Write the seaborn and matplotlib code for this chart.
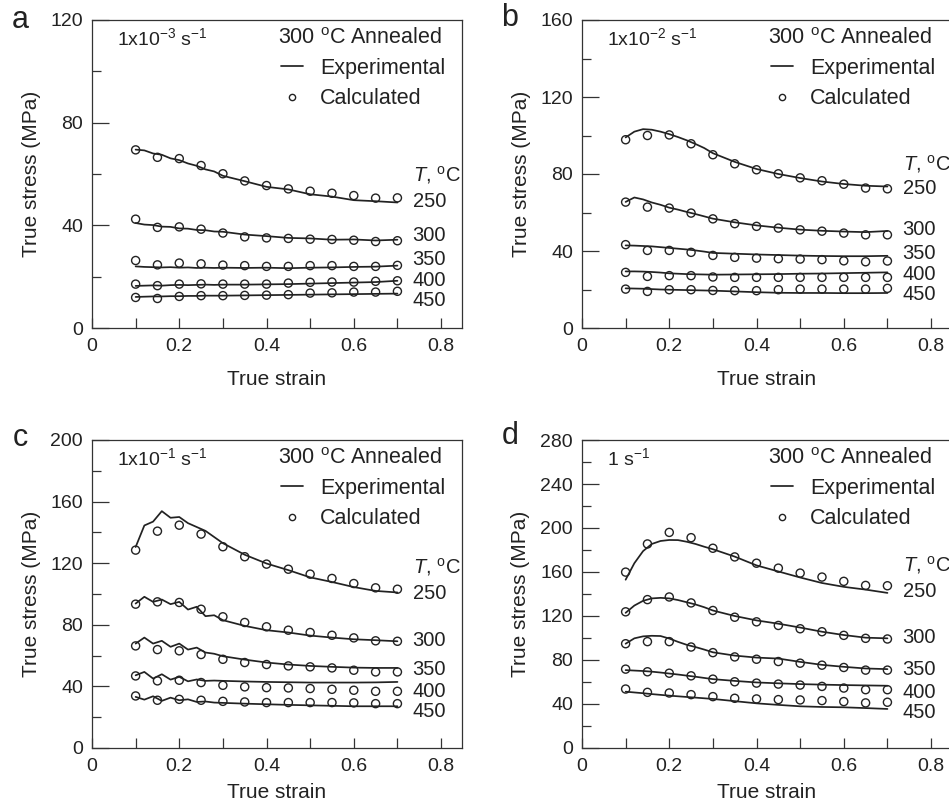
import numpy as np
import pandas as pd
import matplotlib
matplotlib.use("Agg")
import matplotlib.pyplot as plt
from matplotlib.lines import Line2D
from matplotlib.ticker import MultipleLocator
import seaborn as sns

# ---------------- data ----------------
temps = [250, 300, 350, 400, 450]
strain_calc = [0.10, 0.15, 0.20, 0.25, 0.30, 0.35, 0.40, 0.45, 0.50, 0.55, 0.60, 0.65, 0.70]
strain_exp = [0.10, 0.12, 0.14, 0.16, 0.18, 0.20, 0.22, 0.24, 0.26, 0.28, 0.30,
              0.35, 0.40, 0.45, 0.50, 0.55, 0.60, 0.65, 0.70]

# panel a : 1x10^-3 s^-1
a_exp_250 = [69.5, 69.2, 68.0, 67.5, 66.1, 65.4, 64.1, 63.2, 61.8, 61.0, 59.3, 57.2, 55.0, 54.0, 52.1, 51.2, 49.8, 49.4, 48.9]
a_exp_300 = [40.9, 40.3, 40.1, 39.5, 39.4, 38.8, 38.7, 38.2, 38.1, 37.6, 37.5, 36.4, 35.8, 35.1, 34.9, 34.4, 34.5, 34.1, 34.4]
a_exp_350 = [24.0, 23.8, 23.7, 23.6, 23.7, 23.5, 23.6, 23.4, 23.5, 23.4, 23.5, 23.4, 23.5, 23.3, 23.5, 23.6, 23.8, 23.9, 24.3]
a_exp_400 = [16.4, 16.5, 16.6, 16.5, 16.7, 16.8, 16.7, 16.8, 16.9, 16.8, 16.9, 16.9, 17.0, 17.1, 17.3, 17.5, 17.7, 17.9, 18.4]
a_exp_450 = [12.1, 12.2, 12.3, 12.3, 12.4, 12.4, 12.5, 12.5, 12.6, 12.6, 12.6, 12.7, 12.8, 12.9, 13.0, 13.1, 13.2, 13.3, 13.4]
a_calc_250 = [69.4, 66.5, 66.0, 63.3, 60.1, 57.3, 55.5, 54.2, 53.3, 52.5, 51.6, 50.6, 50.7]
a_calc_300 = [42.4, 39.2, 39.4, 38.5, 37.0, 35.5, 35.1, 34.9, 34.6, 34.5, 34.2, 33.7, 34.0]
a_calc_350 = [26.3, 24.6, 25.3, 25.0, 24.5, 24.3, 24.0, 24.0, 24.3, 24.3, 24.0, 24.0, 24.4]
a_calc_400 = [17.1, 16.5, 17.1, 17.2, 17.1, 17.1, 17.1, 17.5, 17.8, 17.9, 17.9, 18.2, 18.4]
a_calc_450 = [11.9, 11.5, 12.3, 12.6, 12.6, 12.7, 12.8, 13.0, 13.6, 13.7, 14.0, 14.0, 14.3]

# panel b : 1x10^-2 s^-1
b_exp_250 = [99.0, 102.0, 103.3, 103.0, 102.0, 100.7, 99.2, 97.5, 95.6, 93.5, 90.8, 86.3, 82.6, 80.0, 77.9, 76.1, 74.8, 73.9, 73.5]
b_exp_300 = [65.5, 67.8, 66.8, 65.2, 64.0, 62.5, 61.5, 60.3, 59.2, 58.0, 56.8, 54.9, 53.3, 52.1, 51.1, 50.5, 50.1, 49.8, 50.4]
b_exp_350 = [42.9, 42.8, 42.6, 42.4, 42.0, 41.6, 41.2, 40.8, 40.3, 39.7, 39.0, 38.6, 38.2, 37.9, 37.6, 37.4, 37.3, 37.3, 37.5]
b_exp_400 = [29.4, 29.4, 29.3, 29.1, 28.8, 28.4, 28.2, 28.0, 27.9, 27.8, 27.7, 27.8, 27.9, 28.0, 28.2, 28.3, 28.5, 28.7, 28.9]
b_exp_450 = [20.6, 20.5, 20.4, 20.2, 20.0, 19.9, 19.8, 19.7, 19.6, 19.5, 19.4, 19.0, 18.6, 18.3, 18.2, 18.2, 18.1, 18.1, 18.2]
b_calc_250 = [97.8, 100.0, 100.3, 95.7, 90.0, 85.3, 82.2, 80.1, 78.0, 76.5, 74.7, 72.7, 72.3]
b_calc_300 = [65.4, 62.8, 62.3, 59.7, 56.7, 54.2, 52.8, 51.9, 51.0, 50.3, 49.3, 48.4, 48.4]
b_calc_350 = [43.3, 40.3, 40.3, 39.3, 37.7, 36.7, 36.3, 36.0, 35.8, 35.5, 34.9, 34.4, 34.8]
b_calc_400 = [28.9, 26.8, 27.2, 27.2, 26.5, 26.3, 26.3, 26.3, 26.3, 26.3, 26.3, 26.3, 26.3]
b_calc_450 = [20.2, 19.0, 19.9, 19.9, 19.5, 19.4, 19.4, 19.9, 20.2, 20.2, 20.2, 20.2, 20.6]

# panel c : 1x10^-1 s^-1
c_exp_250 = [130.5, 144.5, 147.0, 153.8, 149.5, 150.0, 146.0, 143.5, 141.0, 137.0, 133.0, 125.5, 119.8, 115.5, 110.8, 107.8, 104.5, 102.0, 101.0]
c_exp_300 = [93.8, 98.2, 94.9, 96.4, 93.4, 94.9, 89.9, 91.7, 85.6, 86.2, 83.0, 79.3, 76.5, 75.0, 73.0, 71.7, 70.6, 70.0, 69.3]
c_exp_350 = [67.8, 71.7, 67.8, 69.6, 65.7, 67.8, 63.9, 65.2, 62.0, 61.2, 59.6, 57.4, 55.5, 54.2, 53.3, 52.7, 52.2, 52.0, 52.0]
c_exp_400 = [47.2, 49.4, 45.1, 47.9, 44.4, 46.2, 43.3, 44.5, 43.6, 43.8, 43.6, 43.2, 42.9, 42.7, 42.5, 42.5, 42.5, 42.6, 42.9]
c_exp_450 = [33.2, 31.4, 33.6, 30.6, 32.7, 31.0, 31.6, 29.9, 30.2, 29.5, 29.3, 28.8, 28.4, 28.0, 27.7, 27.4, 27.1, 27.1, 27.1]
c_calc_250 = [128.5, 140.8, 144.7, 138.9, 130.7, 124.2, 119.4, 116.1, 112.9, 110.1, 106.8, 104.0, 103.1]
c_calc_300 = [93.4, 94.9, 94.5, 90.1, 85.2, 81.5, 78.7, 76.5, 75.0, 73.2, 71.5, 69.6, 69.3]
c_calc_350 = [66.3, 63.9, 63.1, 60.7, 57.6, 55.5, 54.2, 53.3, 52.7, 52.0, 50.5, 49.4, 49.4]
c_calc_400 = [46.8, 43.6, 44.0, 42.5, 40.7, 39.7, 39.2, 39.0, 38.6, 38.1, 37.5, 36.8, 36.8]
c_calc_450 = [33.8, 31.0, 31.6, 31.0, 30.3, 29.9, 29.5, 29.5, 29.5, 29.5, 29.3, 28.8, 28.8]

# panel d : 1 s^-1
d_exp_250 = [153.0, 168.0, 179.0, 185.5, 188.2, 189.1, 189.0, 187.5, 185.5, 183.0, 180.7, 174.0, 166.0, 160.5, 155.0, 150.0, 146.5, 144.0, 141.0]
d_exp_300 = [122.9, 129.5, 133.8, 136.0, 136.5, 136.0, 134.5, 132.5, 130.5, 128.0, 125.0, 120.0, 116.0, 113.0, 109.5, 105.7, 102.7, 100.3, 99.7]
d_exp_350 = [94.8, 99.7, 101.5, 102.0, 101.8, 99.5, 96.5, 93.8, 91.8, 89.5, 87.0, 84.0, 82.2, 81.3, 78.3, 75.6, 73.8, 72.3, 71.7]
d_exp_400 = [70.8, 70.4, 70.0, 69.4, 68.6, 67.7, 66.8, 65.8, 64.8, 63.7, 62.6, 61.0, 59.6, 58.8, 58.1, 57.6, 57.2, 56.9, 56.6]
d_exp_450 = [51.2, 50.5, 49.8, 49.0, 48.3, 47.6, 47.0, 46.4, 45.8, 45.2, 44.6, 42.6, 40.6, 39.2, 37.9, 37.3, 37.0, 36.3, 35.5]
d_calc_250 = [159.9, 185.5, 196.0, 191.2, 181.6, 173.7, 168.0, 163.5, 159.0, 155.4, 151.5, 147.8, 147.5]
d_calc_300 = [123.8, 134.9, 137.3, 131.9, 125.0, 118.9, 114.7, 111.4, 108.4, 105.7, 102.4, 99.7, 99.1]
d_calc_350 = [94.8, 96.7, 96.7, 91.8, 86.7, 82.8, 80.7, 78.6, 77.1, 75.3, 73.2, 70.8, 70.8]
d_calc_400 = [71.7, 69.3, 68.0, 65.6, 62.6, 60.2, 59.0, 58.1, 57.2, 56.0, 54.5, 53.0, 53.0]
d_calc_450 = [53.6, 50.6, 50.0, 48.5, 46.7, 45.2, 44.6, 44.0, 43.7, 43.1, 42.2, 41.0, 41.6]

panel_letters = ["a", "b", "c", "d"]
rate_labels = ["1x10$^{-3}$ s$^{-1}$", "1x10$^{-2}$ s$^{-1}$", "1x10$^{-1}$ s$^{-1}$", "1 s$^{-1}$"]
y_max = [120, 160, 200, 280]
# vertical positions (data units) of the temperature labels at the right
temp_label_y = [
    [59.7, 49.3, 35.9, 26.6, 18.4, 10.6],
    [85.3, 72.3, 51.0, 38.6, 28.0, 17.6],
    [117.7, 100.3, 69.6, 50.9, 36.4, 23.4],
    [166.5, 142.4, 100.9, 71.7, 50.6, 32.5],
]

exp_sets = [
    [a_exp_250, a_exp_300, a_exp_350, a_exp_400, a_exp_450],
    [b_exp_250, b_exp_300, b_exp_350, b_exp_400, b_exp_450],
    [c_exp_250, c_exp_300, c_exp_350, c_exp_400, c_exp_450],
    [d_exp_250, d_exp_300, d_exp_350, d_exp_400, d_exp_450],
]
calc_sets = [
    [a_calc_250, a_calc_300, a_calc_350, a_calc_400, a_calc_450],
    [b_calc_250, b_calc_300, b_calc_350, b_calc_400, b_calc_450],
    [c_calc_250, c_calc_300, c_calc_350, c_calc_400, c_calc_450],
    [d_calc_250, d_calc_300, d_calc_350, d_calc_400, d_calc_450],
]

# ---------------- style ----------------
sns.set_theme(style="ticks")
INK = "#222222"
plt.rcParams.update({
    "font.family": ["Liberation Sans", "DejaVu Sans"],
    "mathtext.fontset": "custom",
    "mathtext.rm": "Liberation Sans",
    "mathtext.it": "Liberation Sans:italic",
    "mathtext.bf": "Liberation Sans:bold",
    "font.size": 14,
    "axes.edgecolor": "#333333",
    "axes.linewidth": 0.9,
    "text.color": INK,
    "axes.labelcolor": INK,
    "xtick.color": "#333333",
    "ytick.color": "#333333",
    "xtick.labelcolor": INK,
    "ytick.labelcolor": INK,
})

W, H = 949, 806
fig = plt.figure(figsize=(W / 100, H / 100), dpi=100)
ax_w, ax_h = 370, 308
positions = [(92, 20), (582, 20), (92, 440), (582, 440)]  # left, top in px
letter_pos = [(20, 20), (510, 18), (20, 438), (510, 436)]
xlabel_pad = [11, 11, 6, 6]

for i in range(4):
    left, top = positions[i]
    ax = fig.add_axes([left / W, 1 - (top + ax_h) / H, ax_w / W, ax_h / H])

    exp_df = pd.concat([
        pd.DataFrame({"strain": strain_exp, "stress": vals, "T": t})
        for t, vals in zip(temps, exp_sets[i])
    ])
    calc_df = pd.concat([
        pd.DataFrame({"strain": strain_calc, "stress": vals, "T": t})
        for t, vals in zip(temps, calc_sets[i])
    ])

    sns.lineplot(data=exp_df, x="strain", y="stress", hue="T", palette=[INK] * 5,
                 legend=False, linewidth=1.25, estimator=None, sort=False, ax=ax)
    sns.scatterplot(data=calc_df, x="strain", y="stress", marker="o", s=34,
                    facecolor="none", edgecolor=INK, linewidth=1.0, legend=False, ax=ax)

    ax.set_xlim(0, 0.848)
    ax.set_ylim(0, y_max[i])
    ax.xaxis.set_minor_locator(MultipleLocator(0.1))
    ax.yaxis.set_major_locator(MultipleLocator(40))
    ax.yaxis.set_minor_locator(MultipleLocator(20))
    ax.set_xticks([0, 0.2, 0.4, 0.6, 0.8])
    ax.set_xticklabels(["0", "0.2", "0.4", "0.6", "0.8"])
    ax.tick_params(axis="x", which="both", direction="in", length=7.2, width=0.9,
                   top=False, pad=7, labelsize=14)
    ax.tick_params(axis="y", which="major", direction="in", length=12, width=0.9,
                   right=False, pad=6.5, labelsize=14)
    ax.tick_params(axis="y", which="minor", direction="in", length=6.5, width=0.9, right=False)
    for s in ["top", "right"]:
        ax.spines[s].set_visible(True)

    ax.set_xlabel("True strain", fontsize=15, labelpad=xlabel_pad[i])
    ax.set_ylabel("True stress (MPa)", fontsize=15, labelpad=7)

    ax.text(0.068, 0.94, rate_labels[i], transform=ax.transAxes, ha="left", va="center",
            fontsize=14)
    ax.text(0.946, 0.94, "300 $^{\\mathrm{o}}$C Annealed", transform=ax.transAxes,
            ha="right", va="center", fontsize=15.5)

    handles = [Line2D([], [], color=INK, linewidth=1.25),
               Line2D([], [], color=INK, linestyle="none", marker="o", markersize=4.5,
                      markerfacecolor="none", markeredgewidth=1.0)]
    ax.legend(handles, ["Experimental", "Calculated"],
              fontsize=15.5, frameon=False, loc="center right",
              bbox_to_anchor=(0.99, 0.794), handlelength=1.0, handletextpad=0.8,
              labelspacing=0.45, borderaxespad=0.2)

    ty = temp_label_y[i]
    ax.text(0.735, ty[0], "$T$, $^{\\mathrm{o}}$C", ha="left", va="center", fontsize=14.5)
    for t, yv in zip(temps, ty[1:]):
        ax.text(0.735, yv, str(t), ha="left", va="center", fontsize=14.5)

    lx, ly = letter_pos[i]
    fig.text(lx / W, 1 - ly / H, panel_letters[i], ha="center", va="center", fontsize=22)

fig.savefig("out.png", dpi=100)
